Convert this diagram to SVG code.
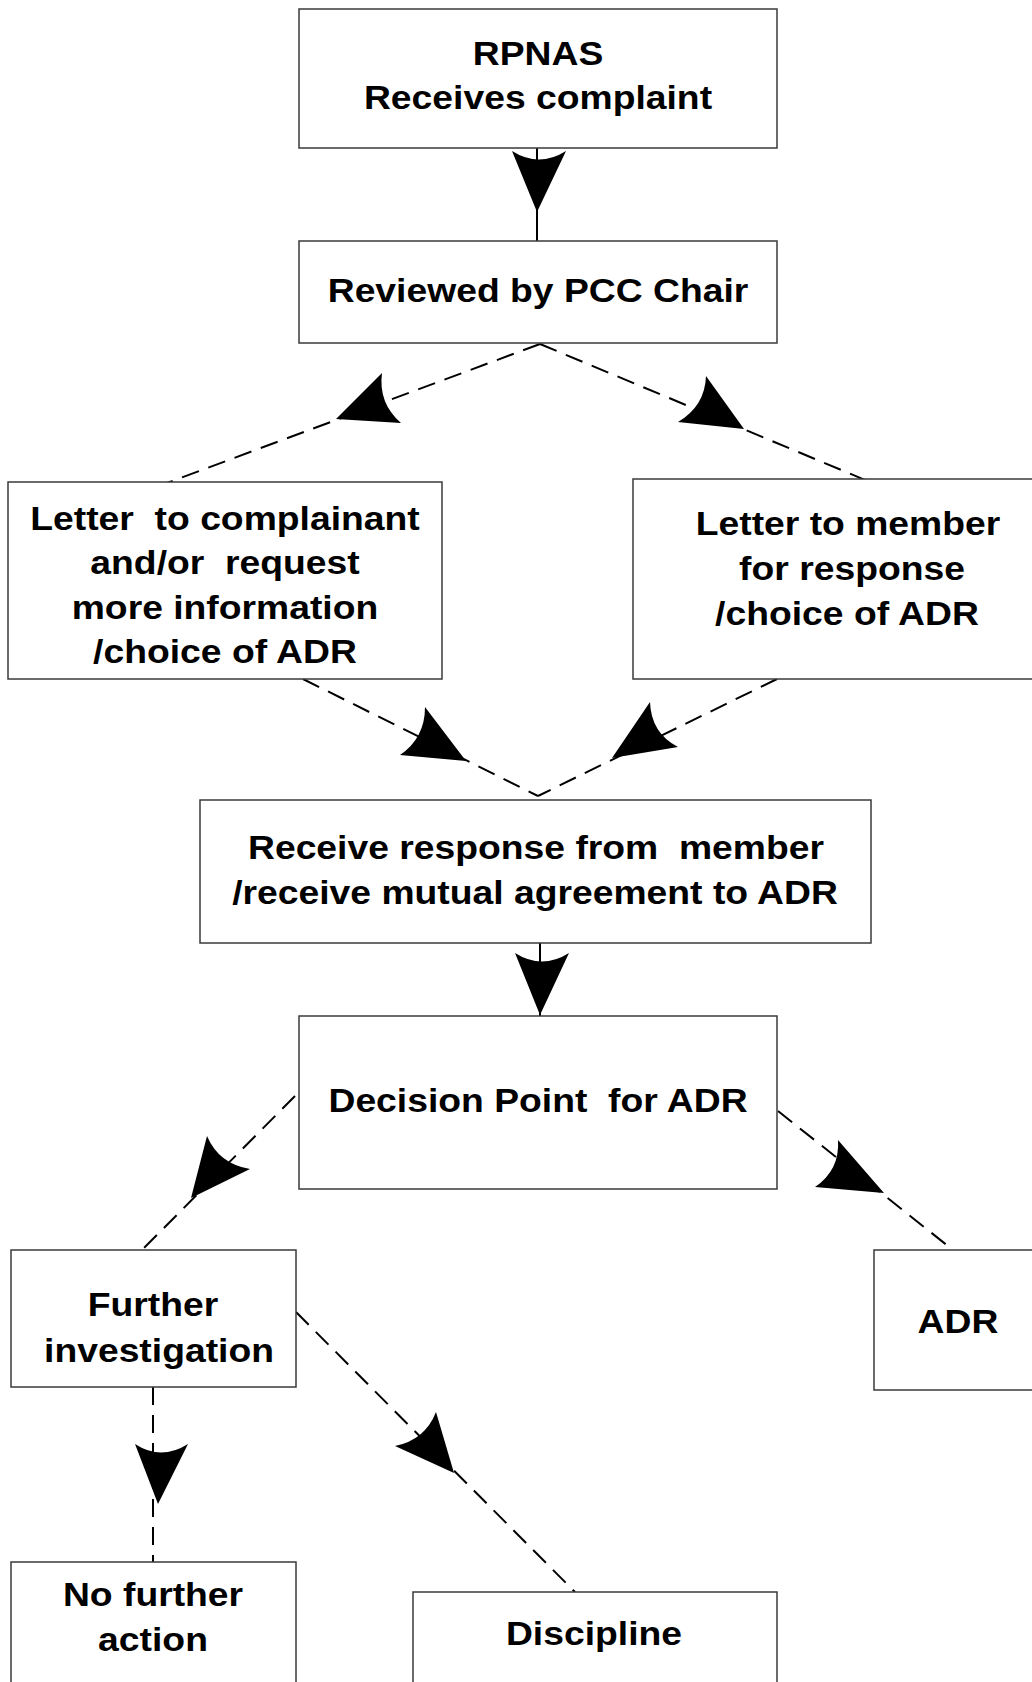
<svg xmlns="http://www.w3.org/2000/svg" width="1032" height="1682" viewBox="0 0 1032 1682">
<style>
.box{fill:#fff;stroke:#3a3a3a;stroke-width:1.5}
.t{font-family:"Liberation Sans",Arial,sans-serif;font-weight:bold;font-size:33px;text-anchor:middle;fill:#000}
.ln{fill:none;stroke:#000;stroke-width:2}
.dash{stroke-dasharray:18 10}
.ah{fill:#000;stroke:none}
</style>
<rect width="1032" height="1682" fill="#fff"/>
<g id="connectors">
<line class="ln" x1="537" y1="148" x2="537" y2="241"/>
<line class="ln dash" x1="540" y1="344" x2="167" y2="483"/>
<line class="ln dash" x1="540" y1="344" x2="870" y2="482"/>
<line class="ln dash" x1="303" y1="679" x2="538" y2="796"/>
<line class="ln dash" x1="777" y1="679" x2="538" y2="796"/>
<line class="ln" x1="540" y1="938" x2="540" y2="1016"/>
<line class="ln dash" x1="295" y1="1096" x2="142" y2="1250"/>
<line class="ln dash" x1="778" y1="1111" x2="953" y2="1250"/>
<line class="ln dash" x1="153" y1="1387" x2="153" y2="1562"/>
<line class="ln dash" x1="296" y1="1312" x2="575" y2="1592"/>
<path class="ah" d="M537,212 L512,151 Q539,168 566,151 Z"/>
<path class="ah" d="M336,419 L382,373 Q378,403 401,423 Z"/>
<path class="ah" d="M744,429 L706,376 Q705,406 678,422 Z"/>
<path class="ah" d="M466,761 L425,707 Q425,738 400,755 Z"/>
<path class="ah" d="M612,758 L650,702 Q651,733 678,747 Z"/>
<path class="ah" d="M540,1015 L515,953 Q542,970 569,953 Z"/>
<path class="ah" d="M191,1198 L207,1136 Q219,1164 250,1169 Z"/>
<path class="ah" d="M884,1193 L838,1140 Q840,1170 815,1187 Z"/>
<path class="ah" d="M158,1504 L135,1444 Q161,1461 188,1444 Z"/>
<path class="ah" d="M454,1473 L436,1412 Q425,1440 395,1446 Z"/>
</g>
<g id="n1">
<rect class="box" x="299" y="9" width="478" height="139"/>
<text class="t" transform="translate(538 0) scale(1.13 1)" y="65">RPNAS</text>
<text class="t" transform="translate(538 0) scale(1.13 1)" y="109">Receives complaint</text>
</g>
<g id="n2">
<rect class="box" x="299" y="241" width="478" height="102"/>
<text class="t" transform="translate(538 0) scale(1.13 1)" y="302">Reviewed by PCC Chair</text>
</g>
<g id="n3">
<rect class="box" x="8" y="482" width="434" height="197"/>
<text class="t" transform="translate(225 0) scale(1.13 1)" y="530" xml:space="preserve">Letter  to complainant</text>
<text class="t" transform="translate(225 0) scale(1.13 1)" y="574" xml:space="preserve">and/or  request</text>
<text class="t" transform="translate(225 0) scale(1.13 1)" y="619">more information</text>
<text class="t" transform="translate(225 0) scale(1.13 1)" y="663">/choice of ADR</text>
</g>
<g id="n4">
<rect class="box" x="633" y="479" width="420" height="200"/>
<text class="t" transform="translate(848 0) scale(1.13 1)" y="535">Letter to member</text>
<text class="t" transform="translate(852 0) scale(1.13 1)" y="580">for response</text>
<text class="t" transform="translate(847 0) scale(1.13 1)" y="625">/choice of ADR</text>
</g>
<g id="n5">
<rect class="box" x="200" y="800" width="671" height="143"/>
<text class="t" transform="translate(536 0) scale(1.13 1)" y="859" xml:space="preserve">Receive response from  member</text>
<text class="t" transform="translate(535 0) scale(1.13 1)" y="904">/receive mutual agreement to ADR</text>
</g>
<g id="n6">
<rect class="box" x="299" y="1016" width="478" height="173"/>
<text class="t" transform="translate(538 0) scale(1.13 1)" y="1112" xml:space="preserve">Decision Point  for ADR</text>
</g>
<g id="n7">
<rect class="box" x="11" y="1250" width="285" height="137"/>
<text class="t" transform="translate(153 0) scale(1.13 1)" y="1316">Further</text>
<text class="t" transform="translate(159 0) scale(1.13 1)" y="1362">investigation</text>
</g>
<g id="n8">
<rect class="box" x="874" y="1250" width="180" height="140"/>
<text class="t" transform="translate(958 0) scale(1.13 1)" y="1333">ADR</text>
</g>
<g id="n9">
<rect class="box" x="11" y="1562" width="285" height="140"/>
<text class="t" transform="translate(153 0) scale(1.13 1)" y="1606">No further</text>
<text class="t" transform="translate(153 0) scale(1.13 1)" y="1651">action</text>
</g>
<g id="n10">
<rect class="box" x="413" y="1592" width="364" height="110"/>
<text class="t" transform="translate(594 0) scale(1.13 1)" y="1645">Discipline</text>
</g>
</svg>
